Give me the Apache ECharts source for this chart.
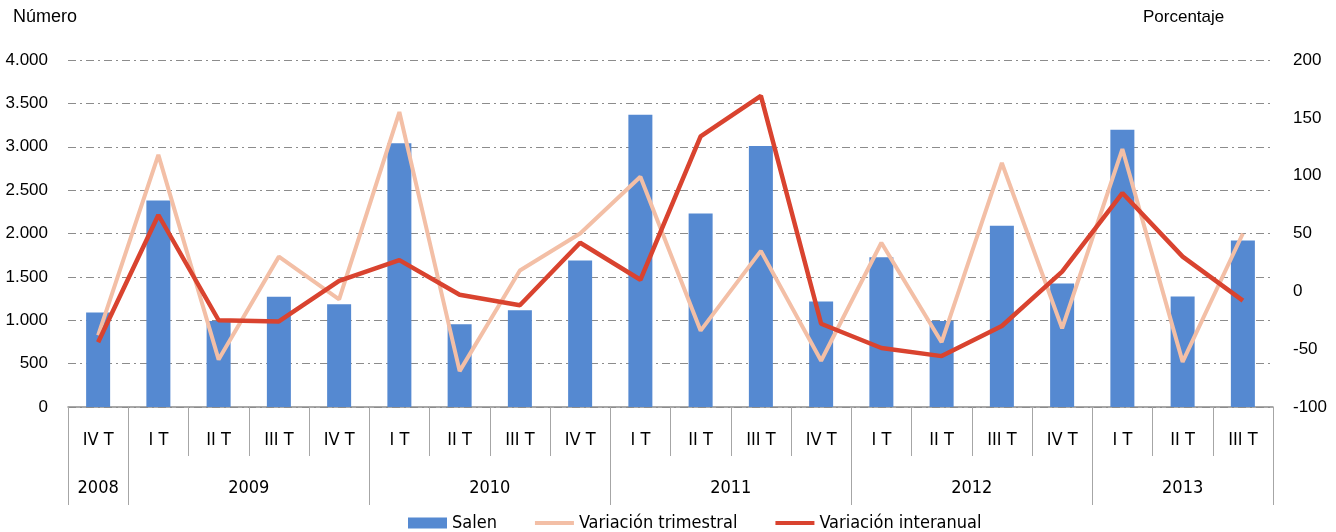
<!DOCTYPE html>
<html>
<head>
<meta charset="utf-8">
<script src="https://cdn.jsdelivr.net/npm/echarts@6/dist/echarts.min.js"></script>
<style>
  html, body { margin: 0; padding: 0; background: #fff; }
  #chart { width: 1336px; height: 532px; }
</style>
</head>
<body>
<div id="chart"></div>
<script>
// trimestres (eje inferior)
var quarters = ['IV T', 'I T', 'II T', 'III T', 'IV T', 'I T', 'II T', 'III T', 'IV T',
  'I T', 'II T', 'III T', 'IV T', 'I T', 'II T', 'III T', 'IV T', 'I T', 'II T', 'III T']
// años y cuantos trimestres cubre cada uno
var years = ['2008', '2009', '2010', '2011', '2012', '2013']
var yearQuarters = [1, 4, 4, 4, 4, 3]
// series
var salen = [1090, 2380, 990, 1270, 1185, 3040, 955, 1115, 1690, 3370, 2230, 3010, 1215, 1725, 990, 2090, 1425, 3195, 1275, 1920]
var trimestral = [-38, 118, -59, 30, -7, 155, -69, 18, 50, 99, -34, 35, -60, 42, -44, 111, -32, 123, -61, 50]
var interanual = [-44, 66, -25, -26, 9, 27, -3, -12, 42, 10, 134, 169, -28, -49, -56, -30, 17, 85, 30, -8]

// eje de años: medias posiciones (2 por trimestre + 1)
var yearSlots = []
var yearBounds = {}
var yearLabelAt = {}
var pos = 0
yearBounds[0] = true
for (var i = 0; i < years.length; i++) {
  yearLabelAt[pos + yearQuarters[i]] = years[i]
  pos += yearQuarters[i] * 2
  yearBounds[pos] = true
}
for (var k = 0; k <= pos; k++) {
  yearSlots.push(yearLabelAt[k] || '')
}

var narrow = "'Liberation Sans Narrow', 'Arial Narrow', 'DejaVu Sans Condensed', sans-serif"
var sans = "'Liberation Sans', Arial, sans-serif"
// icono de linea para la leyenda
var lineIcon = 'path://M0,0 L40,0 L40,4 L0,4 Z'

var chart = echarts.init(document.getElementById('chart'))
var option = {
  animation: false,
  title: [
    { text: 'Número', left: 8, top: 3, textStyle: { fontFamily: sans, fontSize: 18, fontWeight: 'normal', color: '#000' } },
    { text: 'Porcentaje', left: 1138, top: 4, textStyle: { fontFamily: sans, fontSize: 17, fontWeight: 'normal', color: '#000' } }
  ],
  grid: {
    left: 68,
    right: 63,
    top: 60,
    bottom: 125,
    outerBoundsMode: 'none'
  },
  legend: {
    left: 403,
    top: 509,
    itemGap: 38,
    itemWidth: 39,
    itemHeight: 11,
    textStyle: { fontFamily: narrow, fontSize: 18, color: '#000' },
    data: [
      { name: 'Salen', icon: 'rect' },
      { name: 'Variación trimestral', icon: lineIcon },
      { name: 'Variación interanual', icon: lineIcon }
    ]
  },
  xAxis: [
    {
      type: 'category',
      data: quarters,
      position: 'bottom',
      axisLine: { onZero: false, lineStyle: { color: '#8c8c8c', width: 1.5 } },
      axisTick: { show: true, interval: 0, length: 49, lineStyle: { color: '#a6a6a6' } },
      axisLabel: { interval: 0, margin: 24, fontFamily: narrow, fontSize: 18, color: '#000' }
    },
    {
      type: 'category',
      data: yearSlots,
      position: 'bottom',
      offset: 49,
      boundaryGap: false,
      axisLine: { show: false, onZero: false },
      axisTick: {
        show: true,
        length: 49,
        interval: function (index) { return !!yearBounds[index] },
        lineStyle: { color: '#a6a6a6' }
      },
      axisLabel: {
        margin: 23,
        interval: function (index) { return !!yearLabelAt[index] },
        fontFamily: narrow,
        fontSize: 18,
        color: '#000'
      }
    }
  ],
  yAxis: [
    {
      type: 'value',
      min: 0,
      max: 4000,
      interval: 500,
      axisLine: { show: false },
      axisTick: { show: false },
      axisLabel: {
        margin: 20,
        fontFamily: sans,
        fontSize: 17,
        color: '#000',
        formatter: function (v) { return String(v).replace(/\B(?=(\d{3})+(?!\d))/g, '.') }
      },
      splitLine: { lineStyle: { color: '#8c8c8c', width: 1, type: [8, 4, 2, 4] } }
    },
    {
      type: 'value',
      min: -100,
      max: 200,
      interval: 50,
      axisLine: { show: false },
      axisTick: { show: false },
      axisLabel: { margin: 20, fontFamily: sans, fontSize: 17, color: '#000' },
      splitLine: { show: false }
    }
  ],
  series: [
    {
      name: 'Salen',
      type: 'bar',
      xAxisIndex: 0,
      yAxisIndex: 0,
      barWidth: 24,
      itemStyle: { color: '#5589d1' },
      data: salen
    },
    {
      name: 'Variación trimestral',
      type: 'line',
      xAxisIndex: 0,
      yAxisIndex: 1,
      symbol: 'none',
      lineStyle: { color: '#f3bfa6', width: 4 },
      itemStyle: { color: '#f3bfa6' },
      data: trimestral
    },
    {
      name: 'Variación interanual',
      type: 'line',
      xAxisIndex: 0,
      yAxisIndex: 1,
      symbol: 'none',
      lineStyle: { color: '#d9432f', width: 4.5 },
      itemStyle: { color: '#d9432f' },
      data: interanual
    }
  ]
}
chart.setOption(option)
</script>
</body>
</html>
